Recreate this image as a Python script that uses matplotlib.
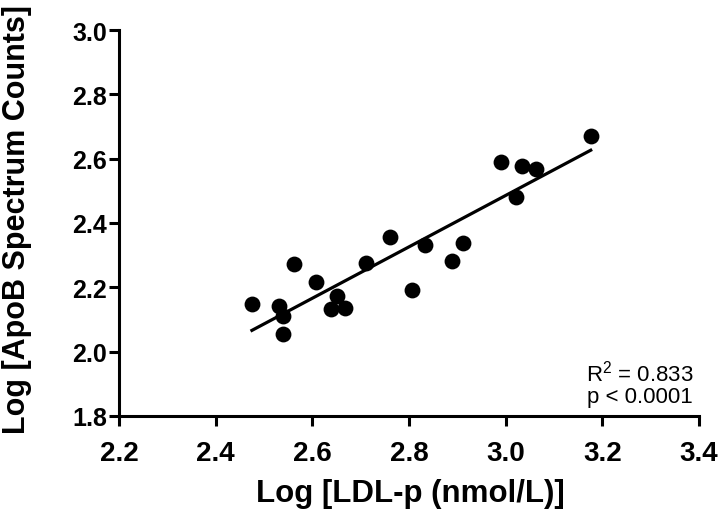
import matplotlib
matplotlib.use("Agg")
import matplotlib.pyplot as plt
import numpy as np

# Log LDL-p vs Log ApoB spectrum counts
log_ldlp = [2.475, 2.530, 2.540, 2.540, 2.563, 2.608, 2.639, 2.650, 2.668, 2.712,
            2.761, 2.807, 2.833, 2.890, 2.912, 2.990, 3.021, 3.033, 3.062, 3.176]
log_apob = [2.148, 2.143, 2.110, 2.055, 2.272, 2.216, 2.133, 2.174, 2.135, 2.276,
            2.355, 2.192, 2.332, 2.283, 2.339, 2.589, 2.480, 2.576, 2.568, 2.669]

x_ticks = [2.2, 2.4, 2.6, 2.8, 3.0, 3.2, 3.4]
y_ticks = [1.8, 2.0, 2.2, 2.4, 2.6, 2.8, 3.0]
stats_text = "R$^2$ = 0.833\np < 0.0001"

plt.rcParams['font.family'] = ['Liberation Sans', 'DejaVu Sans']
plt.rcParams['mathtext.fontset'] = 'custom'
plt.rcParams['mathtext.rm'] = 'Liberation Sans'

fig = plt.figure(figsize=(7.2, 5.1), dpi=100)
ax = fig.add_axes([0.1653, 0.1824, 0.8055, 0.7568])

x = np.array(log_ldlp)
y = np.array(log_apob)
ax.scatter(x, y, s=130, color='black', zorder=3, linewidths=0)

# linear regression line across the data range
slope, intercept = np.polyfit(x, y, 1)
xs = np.array([x.min(), x.max()])
ax.plot(xs, slope * xs + intercept, color='black', linewidth=2.3, zorder=2)

ax.set_xlim(2.2, 3.4)
ax.set_ylim(1.8, 3.0)
ax.set_xticks(x_ticks)
ax.set_yticks(y_ticks)
ax.set_xticklabels([f"{v:.1f}" for v in x_ticks], fontweight='bold', fontsize=20)
ax.set_yticklabels([f"{v:.1f}" for v in y_ticks], fontweight='bold', fontsize=18)
ax.tick_params(axis='both', direction='out', length=7, width=2.2)
ax.tick_params(axis='x', pad=10)
ax.tick_params(axis='y', pad=1.5)

for side in ['top', 'right']:
    ax.spines[side].set_visible(False)
for side in ['left', 'bottom']:
    ax.spines[side].set_linewidth(2.2)

# axis titles placed on the figure
fig.text(410 / 720, 1 - 502 / 510, "Log [LDL-p (nmol/L)]", ha='center', va='baseline',
         fontsize=22.5, fontweight='bold')
fig.text(2 / 720, 1 - 220 / 510, "Log [ApoB Spectrum Counts]", rotation=90,
         ha='left', va='center', fontsize=22, fontweight='bold')

ax.text(0.99, 0.022, stats_text, transform=ax.transAxes, ha='right', va='bottom',
        fontsize=16, linespacing=1.05)

fig.savefig("out.png", dpi=100)
plt.close(fig)
